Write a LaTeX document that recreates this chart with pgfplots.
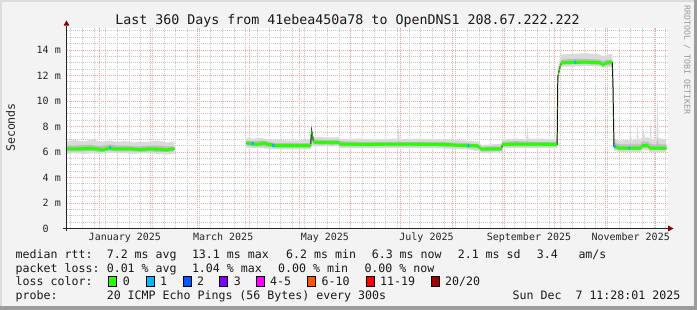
\documentclass[border=0pt]{standalone}
\usepackage{fontspec}
\setmainfont{DejaVu Sans Mono}
\usepackage{xcolor}
\usepackage{pgfplots}
\pgfplotsset{compat=1.18}
\usepackage{pgfplotstable}
\usepgfplotslibrary{fillbetween}
\pgfplotsset{/tikz/fill between/on layer=main}
\definecolor{bg}{HTML}{F3F3F3}
\definecolor{shadeA}{HTML}{DCDCDC}
\definecolor{shadeB}{HTML}{9C9C9C}
\definecolor{mgrid}{HTML}{F4A3A3}
\definecolor{ngrid}{HTML}{C8C8C8}
\definecolor{arrowc}{HTML}{8B0000}
\definecolor{smokeA}{HTML}{DADADA}
\definecolor{smokeB}{HTML}{BDBDBD}
\definecolor{lossA}{HTML}{26FF00}
\definecolor{lossB}{HTML}{00B8FF}
\definecolor{lossC}{HTML}{0059FF}
\definecolor{lossD}{HTML}{7E00FF}
\definecolor{lossE}{HTML}{FF00FF}
\definecolor{lossF}{HTML}{FF5500}
\definecolor{lossG}{HTML}{FF0000}
\definecolor{lossH}{HTML}{A10000}

% median, segment A (days since 12 Dec 2024)
\pgfplotstableread{
d m
0 6.25
8 6.25
14 6.3
20 6.22
22 6.15
24 6.25
26 6.35
27.5 6.25
38 6.25
44 6.2
50 6.25
56 6.22
60 6.15
61.5 6.22
64.8 6.25
}\medA

\pgfplotstableread{
d lo hi ilo ihi
0 5.85 6.85 6.05 6.5
5 5.9 6.95 6.05 6.5
10 5.85 6.8 6.05 6.55
15 5.9 7.0 6.1 6.55
20 5.85 6.8 6.0 6.45
26 5.95 6.9 6.1 6.6
30 5.9 6.8 6.05 6.5
35 5.9 6.85 6.05 6.5
40 5.85 6.75 6.05 6.45
45 5.9 6.8 6.0 6.45
50 5.9 6.8 6.05 6.5
55 5.85 6.9 6.0 6.5
60 5.8 6.75 6.0 6.45
64.8 5.85 6.8 6.05 6.45
}\smA

\pgfplotstableread{
d m
108 6.7
112 6.65
114 6.6
117 6.65
118.5 6.72
121 6.6
124 6.55
125 6.5
146.5 6.5
147 7.7
147.6 7.3
148.2 6.8
150 6.75
160 6.72
163 6.75
164.5 6.62
180 6.6
200 6.62
220 6.6
230 6.58
234 6.52
246 6.5
247.5 6.4
249 6.22
255 6.25
261 6.25
261.6 6.6
275 6.62
294.4 6.6
294.8 11.9
296 12.6
297 13.0
311 13.05
320 13.0
322 12.85
323.5 12.95
326 13.05
327.5 13.0
327.9 11.2
328.5 6.45
330 6.4
331.5 6.3
344.5 6.3
345.5 6.5
349 6.5
350 6.3
360 6.3
}\medB

\pgfplotstableread{
d lo hi ilo ihi
108 6.35 7.1 6.5 6.9
112 6.3 7.05 6.45 6.85
117 6.3 7.1 6.45 6.9
121 6.25 7.0 6.4 6.8
125 6.2 6.95 6.35 6.7
135 6.2 6.9 6.35 6.7
146.5 6.2 6.95 6.35 6.7
147 6.6 8.4 6.9 8.0
147.6 6.5 7.6 6.9 7.5
148.2 6.45 7.2 6.6 7.0
155 6.45 7.15 6.6 6.95
163 6.45 7.15 6.6 6.95
164.5 6.3 7.0 6.45 6.85
175 6.3 7.05 6.45 6.8
185 6.3 7.0 6.45 6.8
198.5 6.3 7.05 6.45 6.8
199.2 6.3 8.0 6.45 6.85
199.9 6.3 7.0 6.45 6.8
210 6.3 7.05 6.45 6.8
220 6.3 7.0 6.45 6.8
230 6.25 6.95 6.4 6.75
240 6.2 6.9 6.35 6.7
247.5 6.05 6.8 6.25 6.6
249 5.9 6.55 6.05 6.4
255 5.9 6.6 6.05 6.45
261 5.95 6.65 6.1 6.45
261.6 6.3 7.0 6.45 6.8
270 6.3 7.05 6.45 6.85
276 6.3 7.0 6.45 6.8
276.6 6.3 8.1 6.45 6.9
277.2 6.3 7.05 6.45 6.8
285 6.3 7.05 6.45 6.8
294.4 6.3 7.0 6.45 6.8
294.8 11.6 12.6 11.75 12.2
296 12.4 13.3 12.5 12.9
297 12.7 13.65 12.85 13.25
305 12.7 13.7 12.9 13.3
311 12.75 13.75 12.9 13.3
320 12.7 13.65 12.85 13.25
322 12.6 13.5 12.7 13.1
323.5 12.65 13.6 12.8 13.2
327.5 12.65 13.7 12.85 13.25
327.9 10.9 11.6 11.0 11.4
328.5 6.1 7.0 6.25 6.75
331.5 6.0 6.9 6.15 6.6
337.8 6.0 6.95 6.15 6.6
338.4 6.0 8.0 6.15 6.7
339 6.0 6.9 6.15 6.6
342 6.0 6.95 6.15 6.6
342.6 6.0 8.3 6.15 6.7
343.2 6.0 6.95 6.15 6.6
344.5 6.0 7.0 6.15 6.6
345.5 6.15 7.2 6.3 6.8
346.2 6.15 7.8 6.3 6.85
347 6.15 7.1 6.3 6.8
349 6.15 7.15 6.3 6.8
350 6.0 7.0 6.15 6.6
350.4 6.0 8.5 6.15 6.7
351 6.0 7.0 6.15 6.6
354 6.0 7.1 6.15 6.6
354.6 6.0 10.7 6.15 7.0
355.2 6.0 7.1 6.15 6.6
358 6.0 7.0 6.15 6.6
360 6.0 7.0 6.15 6.6
}\smB

% short stretches with 1 lost ping
\pgfplotstableread{
d m
25.8 6.35
26.8 6.35
nan nan
111 6.65
112.5 6.65
nan nan
123.5 6.52
124.8 6.5
nan nan
240.5 6.5
241.8 6.5
nan nan
304.8 13.05
305.8 13.05
nan nan
328.6 6.45
329.6 6.43
nan nan
337.3 6.3
338.3 6.3
}\lossone

\begin{document}
\pagecolor{bg}%
\begin{tikzpicture}
\begin{axis}[
  at={(66.5pt,81.5pt)}, anchor=south west,
  scale only axis, width=601.8pt, height=200.5pt,
  xmin=0, xmax=361.1, ymin=0, ymax=15.725,
  axis line style={draw=none},
  axis background/.style={fill=white},
  major tick length=0pt, minor tick length=0pt,
  grid=both,
  major grid style={mgrid, dash pattern=on 1pt off 1pt, line width=0.8pt},
  minor grid style={ngrid, dash pattern=on 1pt off 1pt, line width=0.8pt},
  xtick={19.52,50.52,78.52,109.52,139.52,170.52,200.52,231.52,262.52,292.52,323.52,353.52},
  xticklabels={},
  minor xtick={2.52,9.52,...,359.6},
  extra x ticks={35.02,94.02,155.02,216.02,277.52,338.52},
  extra x tick labels={January 2025,March 2025,May 2025,July 2025,September 2025,November 2025},
  extra x tick style={grid=none},
  xticklabel style={font=\fontsize{10}{12}\selectfont, anchor=base, inner sep=0pt, yshift=-12.5pt, text=black!85},
  ytick={0,2,4,6,8,10,12,14},
  yticklabels={0\hphantom{0m},2 m,4 m,6 m,8 m,10 m,12 m,14 m},
  minor ytick={0.5,1,1.5,2.5,3,3.5,4.5,5,5.5,6.5,7,7.5,8.5,9,9.5,10.5,11,11.5,12.5,13,13.5,14.5,15,15.5},
  yticklabel style={font=\fontsize{10}{12}\selectfont, anchor=east, inner sep=0pt, xshift=-5.5pt, text=black!85},
]
% smoke, segment A
\addplot[draw=none, name path=aLo] table[x=d,y=lo]{\smA};
\addplot[draw=none, name path=aHi] table[x=d,y=hi]{\smA};
\addplot[fill=smokeA, draw=none] fill between[of=aLo and aHi];
\addplot[draw=none, name path=aiLo] table[x=d,y=ilo]{\smA};
\addplot[draw=none, name path=aiHi] table[x=d,y=ihi]{\smA};
\addplot[fill=smokeB, draw=none] fill between[of=aiLo and aiHi];
% smoke, segment B
\addplot[draw=none, name path=bLo] table[x=d,y=lo]{\smB};
\addplot[draw=none, name path=bHi] table[x=d,y=hi]{\smB};
\addplot[fill=smokeA, draw=none] fill between[of=bLo and bHi];
\addplot[draw=none, name path=biLo] table[x=d,y=ilo]{\smB};
\addplot[draw=none, name path=biHi] table[x=d,y=ihi]{\smB};
\addplot[fill=smokeB, draw=none] fill between[of=biLo and biHi];
% median (black)
\addplot[black, line width=1pt] table[x=d,y=m]{\medA};
\addplot[black, line width=1pt] table[x=d,y=m]{\medB};
% median coloured by loss (0 lost)
\addplot[draw=none, name path=gaLo] table[x=d,y expr=\thisrow{m}-0.12]{\medA};
\addplot[draw=none, name path=gaHi] table[x=d,y expr=\thisrow{m}+0.12]{\medA};
\addplot[fill=lossA, draw=none] fill between[of=gaLo and gaHi];
\addplot[draw=none, name path=gbLo] table[x=d,y expr=\thisrow{m}-0.12]{\medB};
\addplot[draw=none, name path=gbHi] table[x=d,y expr=\thisrow{m}+0.12]{\medB};
\addplot[fill=lossA, draw=none] fill between[of=gbLo and gbHi];
\addplot[lossB, line width=3pt, unbounded coords=jump] table[x=d,y=m]{\lossone};
\end{axis}
\begin{scope}[x=1pt,y=1pt]
\fill[shadeA] (0,0) rectangle (2,310);
\fill[shadeA] (0,308) rectangle (697,310);
\fill[shadeB] (694,0) rectangle (697,310);
\fill[shadeB] (0,0) rectangle (697,3.5);
% axes with arrows
\draw[black!85, line width=1pt] (63,81.5) -- (668,81.5);
\fill[arrowc] (668,78.5) -- (673.5,81.5) -- (668,84.5) -- cycle;
\draw[black!85, line width=1pt] (66.5,78.5) -- (66.5,284.3);
\fill[arrowc] (63.5,284.3) -- (66.5,289.5) -- (69.5,284.3) -- cycle;
% title and labels
\node[anchor=base, inner sep=0pt, font=\fontsize{13.3}{14}\selectfont, text=black!90] at (347.5,285.5) {Last 360 Days from 41ebea450a78 to OpenDNS1 208.67.222.222};
\node[rotate=90, inner sep=0pt, font=\fontsize{11.6}{12}\selectfont, text=black!85] at (10.5,182.5) {Seconds};
\node[rotate=-90, inner sep=0pt, font=\fontsize{8.3}{9}\selectfont, text=black!40] at (687,250) {RRDTOOL / TOBI OETIKER};
% legend
\begin{scope}[every node/.style={anchor=base west, inner sep=0pt, font=\fontsize{11.6}{12}\selectfont, text=black!90}]
\node at (15.5,51.7) {median rtt:};
\node at (106.6,51.7) {7.2 ms avg};
\node at (191.8,51.7) {13.1 ms max};
\node at (286,51.7) {6.2 ms min};
\node at (371.6,51.7) {6.3 ms now};
\node at (457.6,51.7) {2.1 ms sd};
\node at (536.6,51.7) {3.4};
\node at (578.3,51.7) {am/s};
\node at (15.5,37.8) {packet loss:};
\node at (106.6,37.8) {0.01 \% avg};
\node at (191.8,37.8) {1.04 \% max};
\node at (278,37.8) {0.00 \% min};
\node at (364.3,37.8) {0.00 \% now};
\node at (15.5,24) {loss color:};
\draw[black, fill=lossA] (108.3,23.5) rectangle (116.6,34);
\node at (122.6,24) {0};
\draw[black, fill=lossB] (145.7,23.5) rectangle (154,34);
\node at (160,24) {1};
\draw[black, fill=lossC] (182.7,23.5) rectangle (191,34);
\node at (196.8,24) {2};
\draw[black, fill=lossD] (219.3,23.5) rectangle (227.6,34);
\node at (233.6,24) {3};
\draw[black, fill=lossE] (256,23.5) rectangle (264.3,34);
\node at (270,24) {4-5};
\draw[black, fill=lossF] (307.3,23.5) rectangle (315.6,34);
\node at (321.4,24) {6-10};
\draw[black, fill=lossG] (365.7,23.5) rectangle (374,34);
\node at (380,24) {11-19};
\draw[black, fill=lossH] (430.7,23.5) rectangle (439,34);
\node at (445,24) {20/20};
\node at (15.5,10.3) {probe:};
\node at (106.6,10.3) {20 ICMP Echo Pings (56 Bytes) every 300s};
\node[anchor=base east] at (680.5,10.3) {Sun Dec~~7 11:28:01 2025};
\end{scope}
\end{scope}
\pgfresetboundingbox
\useasboundingbox (0pt,0pt) rectangle (697pt,310pt);
\end{tikzpicture}
\end{document}
